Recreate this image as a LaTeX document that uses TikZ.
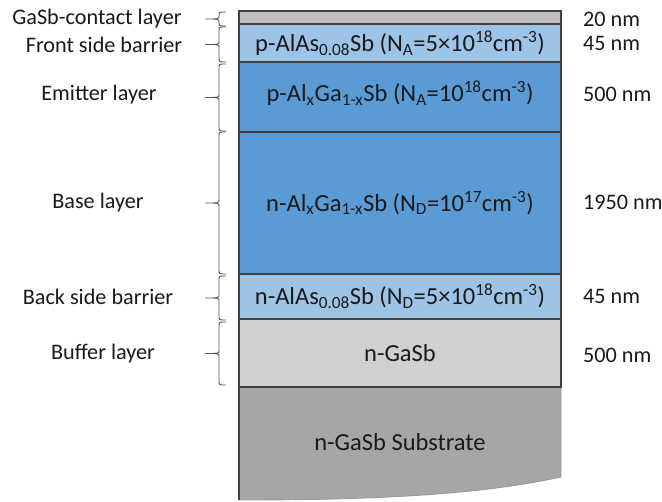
\documentclass[tikz,border=0pt]{standalone}
\usepackage{fontspec}
\setmainfont{Carlito}

\definecolor{edge}{HTML}{404040}
\definecolor{contactgray}{HTML}{BFBFBF}
\definecolor{barrierblue}{HTML}{9DC3E6}
\definecolor{activeblue}{HTML}{5B9BD5}
\definecolor{buffergray}{HTML}{D0D0D0}
\definecolor{subgray}{HTML}{A6A6A6}
\definecolor{bracegray}{HTML}{555555}
\definecolor{ink}{HTML}{1A1A1A}

\tikzset{
  layer/.style={draw=edge, line width=1.1pt},
  txt/.style={font=\fontsize{24.5}{28}\selectfont, text=ink, inner sep=0pt},
  sidelabel/.style={font=\fontsize{22.2}{26}\selectfont, text=ink, inner sep=0pt, anchor=center},
  thick/.style={sidelabel, anchor=west},
  bracket/.style={draw=bracegray, line width=0.9pt},
}

\newcommand{\sbs}[1]{\textsubscript{#1}}
\newcommand{\sps}[1]{\textsuperscript{#1}}

% left-pointing curly brace between two heights (in px)
\newcommand{\sidebrace}[2]{%
  \pgfmathsetmacro{\bmid}{(#1+#2)/2}%
  \draw[bracket] (226,#1) .. controls (219,#1) .. (219,#1+4)
    -- (219,\bmid-3) .. controls (219,\bmid) .. (205,\bmid)
    .. controls (219,\bmid) .. (219,\bmid+3)
    -- (219,#2-4) .. controls (219,#2) .. (226,#2);}

\begin{document}
\begin{tikzpicture}[x=1pt, y=-1pt]
  \useasboundingbox (0,0) rectangle (662,502);

  % substrate with wavy bottom edge
  \path[fill=subgray, draw=gray!80, line width=0.9pt]
    (239,387) -- (561,387) -- (561,477)
    .. controls (470,497) and (350,500) .. (239,500) -- cycle;
  \draw[edge, line width=1.1pt] (239,387) -- (239,500);

  % epitaxial layers, top to bottom
  \path[layer, fill=contactgray]  (239,11)  rectangle (561,24);
  \path[layer, fill=barrierblue]  (239,24)  rectangle (561,62);
  \path[layer, fill=activeblue]   (239,62)  rectangle (561,132);
  \path[layer, fill=activeblue]   (239,132) rectangle (561,274);
  \path[layer, fill=barrierblue]  (239,274) rectangle (561,319);
  \path[layer, fill=buffergray]   (239,319) rectangle (561,387);

  % layer contents
  \node[txt] (fsb) at (400,43) {p-AlAs\sbs{0.08}Sb (N\sbs{A}=5×10\sps{18}cm\sps{-3})};
  \node[txt] (emi) at (400,93) {p-Al\sbs{x}Ga\sbs{1-x}Sb (N\sbs{A}=10\sps{18}cm\sps{-3})};
  \node[txt] (bas) at (400,203) {n-Al\sbs{x}Ga\sbs{1-x}Sb (N\sbs{D}=10\sps{17}cm\sps{-3})};
  \node[txt] (bsb) at (400,296) {n-AlAs\sbs{0.08}Sb (N\sbs{D}=5×10\sps{18}cm\sps{-3})};
  \node[txt] (buf) at (400,353) {n-GaSb};
  \node[txt] (sub) at (400,442) {n-GaSb Substrate};

  % thicknesses
  \node[thick] (t1) at (583,19)  {20 nm};
  \node[thick] (t2) at (583,43)  {45 nm};
  \node[thick] (t3) at (583,94)  {500 nm};
  \node[thick] (t4) at (583,202) {1950 nm};
  \node[thick] (t5) at (583,296) {45 nm};
  \node[thick] (t6) at (583,355) {500 nm};

  % layer names
  \node[sidelabel] (l1) at (97,19)  {GaSb-contact layer};
  \node[sidelabel] (l2) at (104,45) {Front side barrier};
  \node[sidelabel] (l3) at (99,95)  {Emitter layer};
  \node[sidelabel] (l4) at (98,203) {Base layer};
  \node[sidelabel] (l5) at (98,297) {Back side barrier};
  \node[sidelabel] (l6) at (103,354){Buffer layer};

  % braces
  \sidebrace{12}{26}
  \sidebrace{27}{62}
  \sidebrace{64}{131}
  \sidebrace{132}{274}
  \sidebrace{276}{320}
  \sidebrace{322}{385}
\end{tikzpicture}
\end{document}
